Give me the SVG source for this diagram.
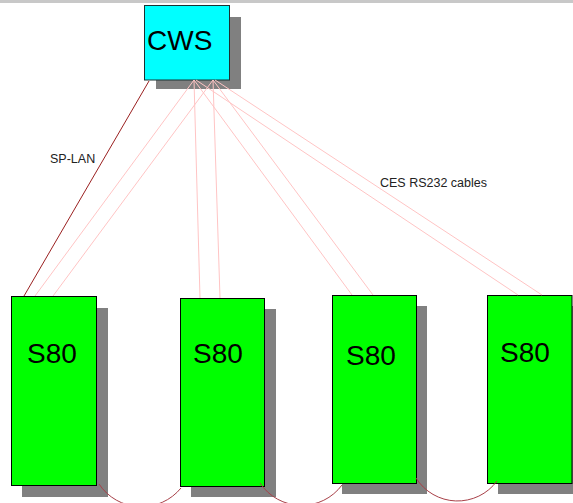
<svg xmlns="http://www.w3.org/2000/svg" width="573" height="503" viewBox="0 0 573 503">
<style>
.shadow{fill:#808080}
.s80{fill:#00ff00;stroke:#000;stroke-width:1}
.cws{fill:#00ffff;stroke:#1a3333;stroke-width:1}
.big{font-family:"Liberation Sans",Arial,sans-serif;font-size:28px;fill:#000}
.lbl{font-family:"Liberation Sans",Arial,sans-serif;font-size:12.5px;fill:#222}
.rs{stroke:#ffc4c4;stroke-width:1;fill:none}
.lan{stroke:#9a2020;stroke-width:1;fill:none}
.loop{stroke:#a84048;stroke-width:1;fill:none}
</style>
<rect x="0" y="0" width="573" height="503" fill="#fff"/>
<rect x="0" y="0" width="573" height="3" fill="#c8c8c8"/>
<g id="cws">
<rect class="shadow" x="156" y="17" width="85" height="72"/>
<rect class="cws" x="144.5" y="5.5" width="85" height="74.5"/>
<text class="big" x="147" y="50">CWS</text>
</g>
<g id="s80-1">
<rect class="shadow" x="22" y="308" width="86" height="189"/>
<rect class="s80" x="11.5" y="296.5" width="85" height="189"/>
<text class="big" x="27" y="363">S80</text>
</g>
<g id="s80-2">
<rect class="shadow" x="191" y="309" width="85" height="188"/>
<rect class="s80" x="180.5" y="298.5" width="84" height="188"/>
<text class="big" x="193" y="363">S80</text>
</g>
<g id="s80-3">
<rect class="shadow" x="342" y="306" width="85" height="188"/>
<rect class="s80" x="332.5" y="295.5" width="84" height="188"/>
<text class="big" x="346" y="365">S80</text>
</g>
<g id="s80-4">
<rect class="shadow" x="498" y="306" width="75" height="188"/>
<rect class="s80" x="487.5" y="295.5" width="84.5" height="188"/>
<text class="big" x="500" y="362">S80</text>
</g>
<g id="connectors">
<line class="lan" x1="149" y1="81" x2="24" y2="296"/>
<line class="rs" x1="194" y1="80" x2="35" y2="296"/>
<line class="rs" x1="213" y1="80" x2="53" y2="296"/>
<line class="rs" x1="194" y1="80" x2="200" y2="298"/>
<line class="rs" x1="213" y1="80" x2="220" y2="298"/>
<line class="rs" x1="194" y1="80" x2="352" y2="295"/>
<line class="rs" x1="213" y1="80" x2="373" y2="295"/>
<line class="rs" x1="196" y1="80" x2="518" y2="295"/>
<line class="rs" x1="215" y1="80" x2="542" y2="295"/>
<path class="loop" d="M99,484 A51,51 0 0 0 181,488"/>
<path class="loop" d="M260,483 A50,50 0 0 0 342,485"/>
<path class="loop" d="M416,478 A49,49 0 0 0 497,481"/>
<text class="lbl" x="50" y="163">SP-LAN</text>
<text class="lbl" x="380" y="187" font-size="13.3">CES RS232 cables</text>
</g>
</svg>
